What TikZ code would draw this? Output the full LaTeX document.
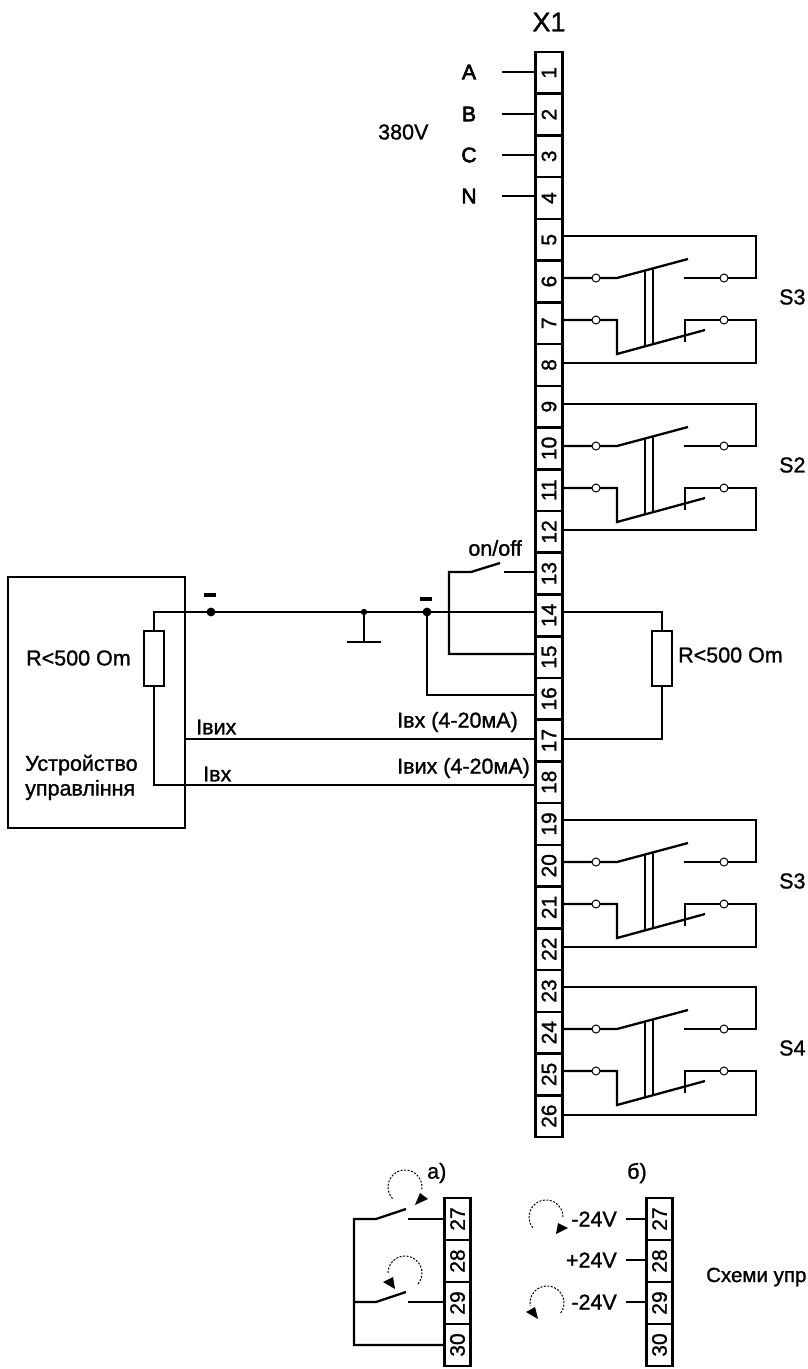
\documentclass[tikz,border=0pt]{standalone}
\usepackage{fontspec}
\setmainfont{Liberation Sans}[FakeBold=1.2]
\newfontfamily\headfont{Liberation Sans}[FakeBold=3]
\usepackage{tikz}

\tikzset{
	wire/.style={line width=2.3pt},
	cell/.style={draw,line width=2.6pt,rotate=90,minimum width=41.73pt,minimum height=26.5pt,inner sep=0pt,font=\fontsize{21}{21}\selectfont},
	lab/.style={inner sep=0pt,font=\fontsize{21.5}{24}\selectfont},
	boldlab/.style={inner sep=0pt,font=\fontsize{21}{24}\headfont},
	turn/.style={line width=1pt,dash pattern=on 2pt off 1.5pt},
	contact/.style={fill=white,line width=1pt},
}

\begin{document}
\begin{tikzpicture}[x=1pt,y=-1pt]
		\useasboundingbox (0,0) rectangle (808,1369);
		%terminal strip X1
		\foreach \n/\y in {1/72,2/114,3/155,4/196,5/236,6/278,7/320,8/363,9/404,10/446,11/488,12/530,13/572,14/612,15/654,16/695,17/739,18/785,19/820,20/862,21/904,22/947,23/987,24/1029,25/1071,26/1115}{
		\pgfmathsetmacro{\yc}{52+(\n-0.5)*41.73}
		\node[cell] (t\n) at (549,\yc) {\n};
		\coordinate (l\n) at (536,\y);
		\coordinate (r\n) at (562,\y);}
		\node[lab,font=\fontsize{27}{27}\selectfont] (title) at (549,22) {X1};
		%phases
		\foreach \n/\p in {1/A,2/B,3/C,4/N}{
		\node[boldlab] (ph\n) at (469,0|-l\n) {\p};
		\draw[wire] (l\n) -- ++(-34,0);}
		\node[lab,anchor=west] (volt) at (378,132) {380V};
		%relays
		\foreach \a/\b/\c/\d/\lab in {5/6/7/8/S3,9/10/11/12/S2,19/20/21/22/S3,23/24/25/26/S4}{
		\begin{scope}[shift={(r\b)}]
			\draw[wire] (r\b) -- (55,0) -- (126,-19);
			\draw[wire] (r\a) -| (194,0) -- (122,0);
			\draw[wire] (r\c) -| (55,76) -- (143,52);
			\draw[wire] (123,64) -- (123,42) -- (194,42) |- (r\d);
			\draw[wire] (83,-8) -- (83,68);
			\draw[wire] (91,-10) -- (91,66);
			\draw[contact] (34,0) circle (4);
			\draw[contact] (162,0) circle (4);
			\draw[contact] (34,42) circle (4);
			\draw[contact] (162,42) circle (4);
			\node[lab,anchor=west] (name\a) at (217,19) {\lab};
		\end{scope}}
		%control device
		\draw[wire] (8,577) rectangle (185,828);
		\node[lab,anchor=west] (rl) at (26,658) {R<500 Om};
		\node[lab,anchor=west] (dev) at (25,765) {Устройство};
		\node[lab,anchor=west] (dev2) at (25,790) {управління};
		\node[draw,wire,minimum width=20pt,minimum height=55pt,inner sep=0pt] (res1) at (154,658.5) {};
		\node[draw,wire,minimum width=20pt,minimum height=55pt,inner sep=0pt] (res2) at (662,658.5) {};
		\node[lab,anchor=west] (rr) at (678,655) {R<500 Om};
		%lines
		\coordinate (d1) at (211,612);
		\coordinate (d2) at (364,612);
		\coordinate (d3) at (427,612);
		\coordinate (g) at (364,642);
		\draw[wire] (res1.north) |- (l14);
		\draw[wire] (res1.south) |- (l18);
		\draw[wire] (185,739) -- (l17);
		\draw[wire] (r14) -| (res2.north);
		\draw[wire] (r17) -| (res2.south);
		\draw[wire] (d2) -- (g);
		\draw[wire] (347,642) -- (381,642);
		\draw[wire] (d3) |- (l16);
		\draw[wire] (l15) -| (449,572) -- (471,572) -- (500,563);
		\draw[wire] (504,0|-l13) -- (l13);
		\fill (d1) circle (4.4);
		\fill (d2) circle (3.2);
		\fill (d3) circle (4.4);
		\node[fill,minimum width=12pt,minimum height=3.5pt,inner sep=0pt] (m1) at (210,595) {};
		\node[fill,minimum width=12pt,minimum height=3.5pt,inner sep=0pt] (m2) at (426,599) {};
		\node[lab,anchor=east] (onoff) at (522,548) {on/off};
		\node[lab,anchor=west] (iout) at (196,727) {Iвих};
		\node[lab,anchor=west] (iin) at (203,774) {Iвх};
		\node[lab,anchor=east] (iinr) at (518,722) {Iвх (4-20мА)};
		\node[lab,anchor=east] (ioutr) at (530,768) {Iвих (4-20мА)};
		%control circuits
		\foreach \n/\x/\s in {27/457.5/a,28/457.5/a,29/457.5/a,30/457.5/a,27/659.5/b,28/659.5/b,29/659.5/b,30/659.5/b}{
		\pgfmathsetmacro{\yc}{1198+(\n-26.5)*42}
		\node[cell,minimum width=42pt] (\s\n) at (\x,\yc) {\n};}
		\node[lab,anchor=west] (capa) at (427,1173) {а)};
		\node[lab,anchor=west] (capb) at (627,1173) {б)};
		\draw[wire] (444,1219) -- (408,1219);
		\draw[wire] (406,1209) -- (376,1219) -- (354,1219) -- (354,1345) -- (444,1345);
		\draw[wire] (444,1302) -- (408,1302);
		\draw[wire] (406,1292) -- (376,1302) -- (354,1302);
		\draw[turn] (405,1187) ++(137:17) arc[start angle=137,end angle=370,radius=17];
		\fill (415,1205) -- (420,1193) -- (428,1199) -- cycle;
		\draw[turn] (405,1273) ++(40:17) arc[start angle=40,end angle=-180,radius=17];
		\fill (395,1289) -- (383,1282) -- (393,1277) -- cycle;
		\draw[turn] (546,1217) ++(141:17) arc[start angle=141,end angle=365,radius=17];
		\fill (556,1234) -- (558,1223) -- (568,1228) -- cycle;
		\draw[turn] (547,1303) ++(36:17) arc[start angle=36,end angle=-190,radius=17];
		\fill (538,1319) -- (526,1312) -- (535,1307) -- cycle;
		\foreach \y/\t in {1219/-24V,1260/+24V,1302/-24V}{
		\node[lab,anchor=east] (v\y) at (617,\y) {\t};
		\draw[wire] (626,\y) -- (646,\y);}
		\node[lab,anchor=west,font=\fontsize{20.5}{24}\selectfont] (cap) at (706,1277) {Схеми упр};
\end{tikzpicture}
\end{document}
